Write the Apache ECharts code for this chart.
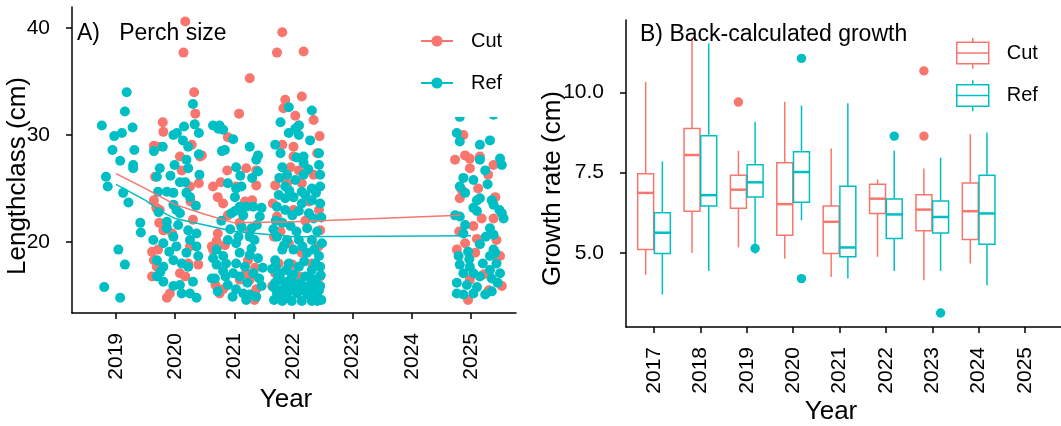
<!DOCTYPE html>
<html>
<head>
<meta charset="utf-8">
<script src="https://cdn.jsdelivr.net/npm/echarts@6/dist/echarts.min.js"></script>
<style>
  html, body { margin: 0; padding: 0; background: #fff; }
  #chart { width: 1061px; height: 426px; }
</style>
</head>
<body>
<div id="chart"></div>
<script>
// ---- panel A: jittered perch lengths [year + jitter, length cm] ----
var cutPts2020 = [[2020.17,40.6],[2020.14,37.7],[2020.32,34.0],[2020.34,32.0],[2019.79,31.2],[2019.80,30.3],[2019.64,29.0],
  [2020.28,29.1],[2020.45,28.1],[2020.08,28.0],[2020.42,28.0],[2019.66,26.1],[2020.11,26.7],[2020.25,25.2],[2020.26,23.8],
  [2019.64,23.9],[2019.68,23.2],[2019.74,23.0],[2019.80,21.1],[2019.61,19.1],[2019.71,19.3],[2019.64,18.3],[2019.69,17.7],
  [2019.61,16.8],[2020.08,17.1],[2020.17,16.8],[2020.39,17.9],[2020.22,18.0],[2019.86,14.8],[2019.91,15.2],[2020.25,19.6],[2019.70,28.9],
  [2019.95,20.8],[2020.30,22.1],[2020.40,25.5],[2019.73,21.8]];
var cutPts2021 = [[2021.26,35.3],[2021.08,32.0],[2020.89,29.8],[2020.64,25.2],[2020.72,24.2],[2020.88,26.7],[2021.20,26.9],
  [2021.37,26.7],[2021.37,25.3],[2021.03,25.2],[2020.81,23.6],[2021.18,23.8],[2020.72,20.8],[2021.09,21.8],[2020.70,20.1],
  [2020.64,19.3],[2020.84,19.7],[2020.75,15.2],[2021.37,15.6],[2021.26,16.5],[2021.20,17.1],[2021.34,14.6],[2020.89,22.5],
  [2020.77,25.6],[2020.62,19.6],[2020.68,16.0],[2020.81,15.6],[2021.09,16.5],[2021.23,18.3],[2021.26,21.0],[2021.35,17.6],[2021.30,23.9]];
var cutPts2022 = [[2021.81,39.6],[2021.72,37.7],[2022.17,37.8],[2022.14,33.6],[2021.86,33.3],[2021.83,32.5],[2022.03,31.8],
  [2022.09,30.9],[2022.44,29.9],[2022.34,31.4],[2022.00,28.9],[2021.81,29.1],[2022.00,28.0],[2021.95,27.0],[2022.09,26.7],
  [2022.34,26.3],[2021.69,25.3],[2021.89,25.5],[2022.14,25.5],[2022.26,23.8],[2022.00,23.0],[2021.72,22.4],[2022.45,21.1],
  [2021.67,20.5],[2021.92,19.9],[2022.14,19.0],[2021.75,18.0],[2022.31,18.0],[2021.69,17.1],[2022.09,16.8],[2022.45,16.8],
  [2021.81,15.2],[2022.31,14.6],[2021.64,15.9],[2022.20,15.6],[2022.40,28.3],[2022.43,23.0],
  [2021.78,21.0],[2022.20,22.0],[2021.65,23.6],[2022.42,19.6],[2021.98,17.9]];
var cutPts2025 = [[2024.87,30.0],[2024.73,27.7],[2024.90,28.1],[2024.98,27.8],[2024.98,26.9],[2025.29,26.3],[2024.84,24.9],
  [2025.12,25.0],[2024.81,24.1],[2025.41,24.2],[2025.18,22.2],[2025.38,22.2],[2025.04,21.5],[2024.90,19.9],[2024.76,19.3],
  [2025.43,20.2],[2025.49,18.7],[2025.07,19.0],[2024.98,16.5],[2025.52,15.9],[2024.95,14.6],[2025.38,27.2],[2025.15,28.0],[2025.41,18.7],
  [2025.22,17.0],[2024.80,21.0],[2025.30,15.5],[2025.10,20.3]];

var refPts2019 = [[2019.18,34.0],[2019.15,32.2],[2018.76,30.9],[2018.97,29.9],[2019.10,30.2],[2019.28,30.7],[2018.94,28.6],
  [2019.31,28.6],[2019.07,27.6],[2019.29,27.2],[2019.29,26.9],[2018.83,26.1],[2018.86,25.2],[2019.12,24.6],[2019.21,23.7],
  [2019.41,21.8],[2019.42,20.9],[2019.04,19.3],[2019.15,17.9],[2018.80,15.8],[2019.07,14.8]];
var refPts2020 = [[2019.97,30.0],[2020.15,30.8],[2020.30,32.9],[2020.33,31.0],[2020.40,30.2],[2020.40,28.2],[2020.41,26.3],
  [2020.22,28.9],[2020.19,27.7],[2020.22,26.9],[2019.99,27.2],[2019.79,28.9],[2019.64,28.5],[2019.74,26.9],[2019.69,26.1],
  [2019.71,24.7],[2019.86,24.7],[2019.97,24.6],[2020.08,25.6],[2020.17,25.6],[2020.19,24.6],[2020.25,24.2],[2020.02,23.0],
  [2020.08,22.7],[2019.86,21.3],[2019.63,20.2],[2019.80,19.9],[2019.97,20.5],[2020.02,19.6],[2020.22,21.1],[2020.25,20.2],
  [2020.36,20.8],[2020.36,19.6],[2020.39,18.7],[2020.19,19.0],[2019.69,18.3],[2019.80,17.7],[2019.97,18.3],[2020.11,18.0],
  [2020.22,17.7],[2019.69,16.8],[2019.80,16.3],[2019.97,15.9],[2020.08,16.0],[2020.11,15.2],[2020.25,15.2],[2020.36,14.8],
  [2019.86,21.9],[2019.97,23.5],[2020.03,30.2],
  [2019.75,17.2],[2019.90,19.1],[2020.30,16.3],[2020.05,21.6],[2019.72,22.8],[2020.35,23.4],[2020.13,29.5],[2019.92,26.2]];
var refPts2021 = [[2020.75,30.9],[2020.81,30.5],[2020.98,29.6],[2020.84,28.6],[2021.26,28.9],[2021.40,28.1],[2021.37,27.7],
  [2021.40,26.6],[2021.03,27.0],[2020.89,25.5],[2021.03,25.0],[2021.01,24.2],[2021.12,25.2],[2021.01,22.9],[2021.09,23.3],
  [2021.20,23.3],[2021.32,23.3],[2021.46,23.2],[2021.43,22.4],[2020.95,22.7],[2021.15,22.5],[2021.29,21.3],[2021.26,20.5],
  [2021.34,20.2],[2020.89,20.2],[2021.03,19.9],[2021.29,19.4],[2020.70,19.3],[2020.81,18.7],[2021.09,19.0],[2021.26,18.8],
  [2021.40,18.5],[2020.70,17.9],[2020.86,18.0],[2021.03,18.0],[2021.18,17.7],[2020.81,17.3],[2020.98,17.1],[2021.09,16.8],
  [2021.32,17.1],[2021.48,17.6],[2020.67,16.6],[2020.89,16.0],[2021.03,15.6],[2021.15,15.2],[2021.26,15.1],[2021.37,14.9],
  [2021.20,14.6],[2021.46,15.9],[2020.64,30.9],[2020.73,30.6],[2020.79,28.5],[2020.64,18.5],[2020.62,16.6],
  [2020.93,21.2],[2021.12,21.4],[2020.78,22.0],[2021.38,21.6],[2021.07,20.5],[2020.85,16.8],[2021.22,16.2],[2021.42,16.6],
  [2020.97,14.9],[2020.72,15.4],[2021.10,26.2],[2021.30,26.0]];
var refPts2022 = [[2021.92,32.6],[2022.31,32.3],[2021.78,31.2],[2022.09,30.9],[2022.03,30.6],[2021.92,30.2],[2022.09,30.0],
  [2022.28,29.5],[2021.69,29.1],[2021.78,28.3],[2022.43,28.3],[2022.17,28.0],[2022.17,27.4],[2022.43,27.2],[2021.81,27.0],
  [2021.89,26.3],[2022.45,26.3],[2022.17,26.3],[2022.03,25.8],[2021.86,25.2],[2022.14,24.7],[2022.31,25.0],[2022.45,25.2],
  [2021.75,24.4],[2021.86,24.1],[2022.00,24.2],[2022.14,23.6],[2022.31,23.9],[2022.45,23.6],[2021.72,23.3],[2021.86,23.0],
  [2022.09,22.9],[2022.26,22.7],[2022.34,22.2],[2021.81,21.8],[2021.95,21.5],[2022.23,21.3],[2021.72,20.5],[2021.89,20.2],
  [2022.09,20.2],[2022.31,20.2],[2022.48,19.9],[2021.81,19.3],[2022.00,19.3],[2022.23,19.0],[2022.43,18.7],[2021.69,18.3],
  [2021.92,18.0],[2022.09,17.7],[2022.31,17.4],[2022.45,17.7],[2021.78,17.1],[2021.97,16.8],[2022.20,16.8],[2022.37,16.5],
  [2021.69,16.2],[2021.86,15.9],[2022.03,16.0],[2022.26,15.9],[2022.45,15.9],[2021.72,15.2],[2021.89,15.1],[2022.06,15.2],
  [2022.23,15.1],[2022.40,15.1],[2021.67,14.6],[2021.81,14.5],[2021.97,14.5],[2022.14,14.5],[2022.31,14.5],[2022.47,14.6],
  [2021.75,15.5],[2021.95,15.5],[2022.10,15.5],[2022.28,15.5],[2022.43,15.5],[2021.78,16.5],[2022.12,16.2],[2022.30,16.6],
  [2021.64,17.5],[2022.40,14.5],
  [2021.70,22.0],[2021.98,22.5],[2022.20,24.4],[2022.38,24.6],[2021.93,24.8],[2022.05,21.0],[2022.40,21.0],[2021.84,19.7],
  [2022.15,19.6],[2022.35,19.3],[2021.66,21.2],[2022.47,22.3],[2021.76,26.0],[2022.25,26.8],[2022.05,27.9],[2021.70,17.8],
  [2021.88,17.4],[2022.18,18.2],[2022.37,18.0],[2022.00,17.0],[2022.46,16.9],[2021.74,16.9],[2022.17,15.8],[2021.90,16.3],
  [2022.34,15.7],[2021.66,15.8]];
var refPts2025 = [[2024.81,31.7],[2025.38,31.9],[2024.76,30.2],[2024.81,29.4],[2025.15,29.1],[2025.32,29.5],[2025.15,27.7],
  [2025.49,27.8],[2025.52,27.2],[2025.24,26.7],[2024.87,26.0],[2025.04,25.8],[2024.81,25.2],[2025.10,23.9],[2025.15,24.1],
  [2025.35,23.9],[2025.38,23.5],[2025.04,23.2],[2025.52,22.7],[2025.55,22.2],[2024.73,22.5],[2024.81,22.4],[2025.10,22.9],
  [2024.90,21.6],[2024.87,20.8],[2025.32,21.3],[2025.38,20.7],[2025.15,19.8],[2025.38,19.3],[2024.79,18.7],[2024.95,19.1],
  [2025.32,18.7],[2025.41,19.0],[2024.81,17.9],[2024.98,17.7],[2025.20,18.0],[2025.43,18.0],[2024.87,17.1],[2025.04,17.1],
  [2025.32,17.4],[2025.49,17.1],[2025.15,16.8],[2025.35,16.6],[2024.76,16.2],[2024.93,16.0],[2024.76,15.2],[2025.04,15.2],
  [2025.24,15.1],[2025.35,15.4],[2024.87,15.1],
  [2025.25,20.5],[2024.97,18.4],[2025.45,16.2],[2025.10,15.8],[2024.90,24.6],[2025.28,25.4],[2025.48,23.0]];

// smoothed trend lines
var cutSmooth = [[2019,26.4],[2019.5,25.0],[2020,23.5],[2020.5,22.6],[2021,21.8],[2022,21.9],[2024.82,22.5]];
var refSmooth = [[2019,25.4],[2019.5,23.9],[2019.75,22.9],[2020,22.2],[2020.5,21.6],[2021,21.0],[2022,20.5],[2025,20.6]];

var sizeXTicks = [2019, 2020, 2021, 2022, 2023, 2024, 2025];
var sizeYTicks = [20, 30, 40];

// ---- panel B: back-calculated growth, [low whisker, Q1, median, Q3, high whisker] ----
var growthYears = [2017, 2018, 2019, 2020, 2021, 2022, 2023, 2024];
var cutBox = [[4.32,5.11,6.87,7.47,10.33],[5.0,6.30,8.05,8.88,11.72],[5.17,6.39,6.97,7.42,8.18],[4.82,5.55,6.52,7.81,9.71],
  [4.25,4.98,5.97,6.46,8.25],[4.88,6.23,6.69,7.14,7.29],[4.15,5.69,6.35,6.81,7.63],[4.67,5.42,6.30,7.18,8.70]];
var refBox = [[3.71,4.98,5.63,6.25,7.85],[4.44,6.46,6.80,8.65,11.53],[4.98,6.74,7.20,7.75,9.09],[6.02,6.58,7.52,8.15,9.59],
  [4.20,4.88,5.17,7.08,9.66],[4.44,5.45,6.20,6.68,8.18],[4.44,5.62,6.12,6.62,7.97],[3.99,5.27,6.23,7.42,8.75]];
var cutOutliers = [[2019, 9.70], [2023, 10.67], [2023, 8.64]];
var refOutliers = [[2019, 5.14], [2020, 11.06], [2020, 4.20], [2022, 8.64], [2023, 3.13]];

var growthXTicks = [2017, 2018, 2019, 2020, 2021, 2022, 2023, 2024, 2025];
var growthYTicks = [5, 7.5, 10];

var FONT = '"Liberation Sans", Arial, sans-serif';
var RED = '#F8766D', TEAL = '#00BFC4';
var DODGE = 0.18, HALF = 0.172;

function boxRows(box) {
  return growthYears.map(function (y, i) { return [y].concat(box[i]); });
}

function boxRender(offset, color) {
  return function (params, api) {
    var x = api.value(0) + offset;
    var p = [1, 2, 3, 4, 5].map(function (i) { return api.coord([x, api.value(i)]); });
    var hw = api.size([HALF, 0])[0];
    var cx = p[0][0];
    var st = { stroke: color, lineWidth: 1.5, fill: null };
    return { type: 'group', children: [
      { type: 'line', shape: { x1: cx, y1: p[0][1], x2: cx, y2: p[1][1] }, style: st },
      { type: 'line', shape: { x1: cx, y1: p[3][1], x2: cx, y2: p[4][1] }, style: st },
      { type: 'rect', shape: { x: cx - hw, y: p[3][1], width: 2 * hw, height: p[1][1] - p[3][1] },
        style: { fill: '#fff', stroke: color, lineWidth: 1.5 } },
      { type: 'line', shape: { x1: cx - hw, y1: p[2][1], x2: cx + hw, y2: p[2][1] }, style: { stroke: color, lineWidth: 2.5 } }
    ] };
  };
}

function dotRender(offset, color) {
  return function (params, api) {
    var c = api.coord([api.value(0) + offset, api.value(1)]);
    return { type: 'circle', shape: { cx: c[0], cy: c[1], r: 4.7 }, style: { fill: color } };
  };
}

var axisLineStyle = { color: '#000', width: 1.5 };
var tickLabel = { color: '#000', fontSize: 21, fontFamily: FONT };
var nameStyle = { color: '#000', fontSize: 26, fontFamily: FONT };

function xAxisOf(grid, min, max, ticks, nameGap, namePad) {
  return {
    type: 'value', gridIndex: grid, min: min, max: max,
    name: 'Year', nameLocation: 'middle', nameGap: nameGap, nameMoveOverlap: false,
    nameTextStyle: Object.assign({ padding: namePad }, nameStyle),
    axisLine: { show: true, lineStyle: axisLineStyle },
    axisTick: { show: true, length: 6, lineStyle: axisLineStyle, customValues: ticks },
    axisLabel: Object.assign({ rotate: 90, margin: 20, padding: [26, 0, 0, 0], customValues: ticks,
      formatter: function (v) { return String(v); } }, tickLabel),
    splitLine: { show: false }
  };
}

function yAxisOf(grid, min, max, ticks, name, nameGap, namePad, fmt) {
  return {
    type: 'value', gridIndex: grid, min: min, max: max,
    name: name, nameLocation: 'middle', nameRotate: 90, nameGap: nameGap, nameMoveOverlap: false,
    nameTextStyle: Object.assign({ padding: namePad }, nameStyle),
    axisLine: { show: true, lineStyle: axisLineStyle },
    axisTick: { show: true, length: 6, lineStyle: axisLineStyle, customValues: ticks },
    axisLabel: Object.assign({ margin: 22, customValues: ticks, formatter: fmt }, tickLabel),
    splitLine: { show: false }
  };
}

var boxIcon = 'path://M16,0L16,4.4M0,4.4L32,4.4L32,26L0,26ZM0,15.2L32,15.2M16,26L16,31';

var chart = echarts.init(document.getElementById('chart'), null, { renderer: 'canvas' });
chart.setOption({
  animation: false,
  backgroundColor: '#fff',
  textStyle: { fontFamily: FONT },
  title: [
    { text: 'A)   Perch size', left: 77, top: 22, padding: 0,
      textStyle: { fontSize: 23, fontWeight: 'normal', color: '#000', fontFamily: FONT } },
    { text: 'B) Back-calculated growth', left: 640, top: 23, padding: 0,
      textStyle: { fontSize: 23, fontWeight: 'normal', color: '#000', fontFamily: FONT } }
  ],
  legend: [
    { data: ['Cut', 'Ref'], orient: 'vertical', left: 412, top: 19, padding: [12, 10, 24, 8],
      backgroundColor: '#fff', itemWidth: 32, itemHeight: 14, itemGap: 22,
      lineStyle: { width: 2 },
      textStyle: { fontSize: 20, color: '#000', fontFamily: FONT, padding: [0, 0, 0, 13] } },
    { data: [
        { name: 'Cut', icon: boxIcon, itemStyle: { color: '#fff', borderColor: RED, borderWidth: 1.5 } },
        { name: 'Ref', icon: boxIcon, itemStyle: { color: '#fff', borderColor: TEAL, borderWidth: 1.5 } }
      ],
      orient: 'vertical', left: 956, top: 37, padding: 0, itemWidth: 32, itemHeight: 31, itemGap: 10,
      textStyle: { fontSize: 20, color: '#000', fontFamily: FONT, padding: [0, 0, 0, 13] } }
  ],
  grid: [
    { left: 72, top: 7, right: 545, bottom: 113, containLabel: false, outerBoundsMode: 'none' },
    { left: 626, top: 20, right: 0, bottom: 99, containLabel: false, outerBoundsMode: 'none' }
  ],
  xAxis: [
    xAxisOf(0, 2018.256, 2025.76, sizeXTicks, 74, [0, 16, 0, 0]),
    xAxisOf(1, 2016.396, 2025.776, growthXTicks, 72, [0, 25, 0, 0])
  ],
  yAxis: [
    yAxisOf(0, 13.38, 41.96, sizeYTicks, 'Lengthclass (cm)', 41, [0, 32, 0, 0], function (v) { return String(v); }),
    yAxisOf(1, 2.693, 12.256, growthYTicks, 'Growth rate (cm)', 60, [0, 30, 0, 0], function (v) { return v.toFixed(1); })
  ],
  series: [
    { name: 'Cut', type: 'line', xAxisIndex: 0, yAxisIndex: 0, data: cutSmooth, symbol: 'none', z: 3,
      itemStyle: { color: RED }, lineStyle: { color: RED, width: 1.5 } },
    { name: 'Ref', type: 'line', xAxisIndex: 0, yAxisIndex: 0, data: refSmooth, symbol: 'none', z: 3,
      itemStyle: { color: TEAL }, lineStyle: { color: TEAL, width: 1.5 } },
    { name: 'Cut', type: 'scatter', xAxisIndex: 0, yAxisIndex: 0, symbolSize: 10, z: 2,
      itemStyle: { color: RED, opacity: 1 },
      data: cutPts2020.concat(cutPts2021, cutPts2022, cutPts2025) },
    { name: 'Ref', type: 'scatter', xAxisIndex: 0, yAxisIndex: 0, symbolSize: 10, z: 2,
      itemStyle: { color: TEAL, opacity: 1 },
      data: refPts2019.concat(refPts2020, refPts2021, refPts2022, refPts2025) },
    { name: 'Cut', type: 'custom', xAxisIndex: 1, yAxisIndex: 1, data: boxRows(cutBox),
      encode: { x: 0, y: [1, 2, 3, 4, 5] }, renderItem: boxRender(-DODGE, RED), itemStyle: { color: RED } },
    { name: 'Ref', type: 'custom', xAxisIndex: 1, yAxisIndex: 1, data: boxRows(refBox),
      encode: { x: 0, y: [1, 2, 3, 4, 5] }, renderItem: boxRender(DODGE, TEAL), itemStyle: { color: TEAL } },
    { name: 'Cut', type: 'custom', xAxisIndex: 1, yAxisIndex: 1, data: cutOutliers,
      encode: { x: 0, y: 1 }, renderItem: dotRender(-DODGE, RED), itemStyle: { color: RED } },
    { name: 'Ref', type: 'custom', xAxisIndex: 1, yAxisIndex: 1, data: refOutliers,
      encode: { x: 0, y: 1 }, renderItem: dotRender(DODGE, TEAL), itemStyle: { color: TEAL } }
  ]
});
</script>
</body>
</html>
